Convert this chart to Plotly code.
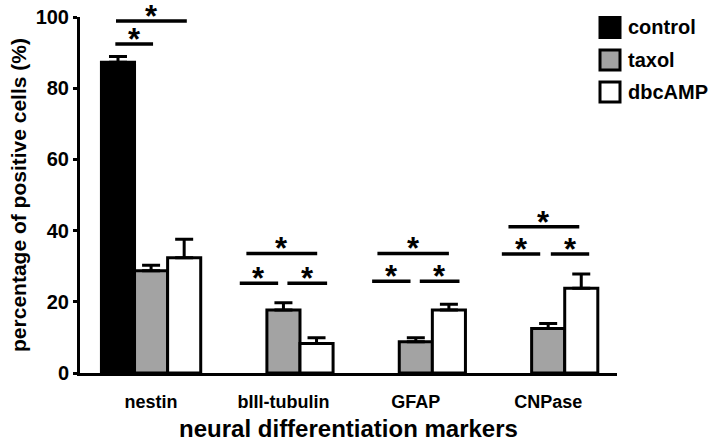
import plotly.graph_objects as go

categories = ["nestin", "bIII-tubulin", "GFAP", "CNPase"]
control = [87.3, None, None, None]
control_err = [1.6, 0, 0, 0]
taxol = [28.7, 17.7, 8.8, 12.5]
taxol_err = [1.6, 2.0, 1.1, 1.4]
dbcamp = [32.4, 8.3, 17.7, 23.8]
dbcamp_err = [5.2, 1.6, 1.6, 4.0]

# significance brackets: (category index, start offset, end offset, height)
bracket_cat = [0, 0, 1, 1, 1, 2, 2, 2, 3, 3, 3]
bracket_x0 = [-0.27, -0.265, -0.33, 0.03, -0.28, -0.33, 0.03, -0.29, -0.35, 0.02, -0.30]
bracket_x1 = [0.015, 0.27, -0.04, 0.33, 0.255, -0.04, 0.33, 0.25, -0.06, 0.31, 0.235]
bracket_y = [92.4, 98.9, 25.2, 25.2, 33.6, 25.8, 25.8, 33.6, 33.4, 33.4, 41.1]

FONT = "Liberation Sans"
W, H = 709, 442
L, R, T, B = 80, 92, 17, 69

fig = go.Figure()
series = [("control", control, control_err, "black"),
          ("taxol", taxol, taxol_err, "#a3a3a3"),
          ("dbcAMP", dbcamp, dbcamp_err, "white")]
for name, vals, errs, col in series:
    fig.add_trace(go.Bar(
        x=categories, y=vals, name=name,
        marker=dict(color=col, line=dict(color="black", width=3)),
        error_y=dict(type="data", symmetric=False, array=errs,
                     arrayminus=[0] * len(errs), color="black",
                     thickness=3, width=9),
        showlegend=False,
    ))

shapes = []
annotations = []
for c, a, b, yv in zip(bracket_cat, bracket_x0, bracket_x1, bracket_y):
    shapes.append(dict(type="line", xref="x", yref="y", x0=c + a, x1=c + b,
                       y0=yv, y1=yv, line=dict(color="black", width=3.5)))
    annotations.append(dict(x=c + (a + b) / 2, y=yv, xref="x", yref="y",
                            text="*", showarrow=False, yanchor="bottom",
                            yshift=-14, borderpad=0,
                            font=dict(family=FONT, size=31, color="black", weight="bold")))

# custom legend (pixel layout converted to paper coords)
pw, ph = W - L - R, H - T - B
def px(xp):
    return (xp - L) / pw
def py(yp):
    return (H - B - yp) / ph

leg_rows = [27.5, 60, 92]
for (name, _, _, col), yc in zip(series, leg_rows):
    shapes.append(dict(type="rect", xref="paper", yref="paper",
                       x0=px(600), x1=px(620), y0=py(yc - 10), y1=py(yc + 10),
                       fillcolor=col, line=dict(color="black", width=3)))
    annotations.append(dict(x=px(626), y=py(yc), xref="paper", yref="paper",
                            text=name, showarrow=False, xanchor="left", yanchor="middle",
                            font=dict(family=FONT, size=20, color="black", weight="bold")))

fig.update_layout(
    width=W, height=H,
    margin=dict(l=L, r=R, t=T, b=B),
    paper_bgcolor="white", plot_bgcolor="white",
    barmode="group", bargap=0.25, bargroupgap=0,
    shapes=shapes, annotations=annotations,
    font=dict(family=FONT, color="black"),
    xaxis=dict(range=[-0.537, 3.52], showline=True, linecolor="black", linewidth=3,
               automargin=False,
               ticks="", tickfont=dict(family=FONT, size=18, weight="bold"),
               ticklabelstandoff=10, showgrid=False, zeroline=False,
               title=dict(text="neural differentiation markers", standoff=10,
                          font=dict(family=FONT, size=24, weight="bold"))),
    yaxis=dict(range=[0, 100], showline=True, linecolor="black", linewidth=3,
               automargin=False,
               ticks="outside", ticklen=4, tickwidth=3, tickcolor="black",
               tickvals=[0, 20, 40, 60, 80, 100],
               tickfont=dict(family=FONT, size=20, weight="bold"),
               showgrid=False, zeroline=False,
               title=dict(text="percentage of positive cells (%)", standoff=4,
                          font=dict(family=FONT, size=21, weight="bold"))),
)

fig.write_html("out.html", config={"displayModeBar": False},
               post_script="document.body.style.margin='0';document.body.style.padding='0';")
